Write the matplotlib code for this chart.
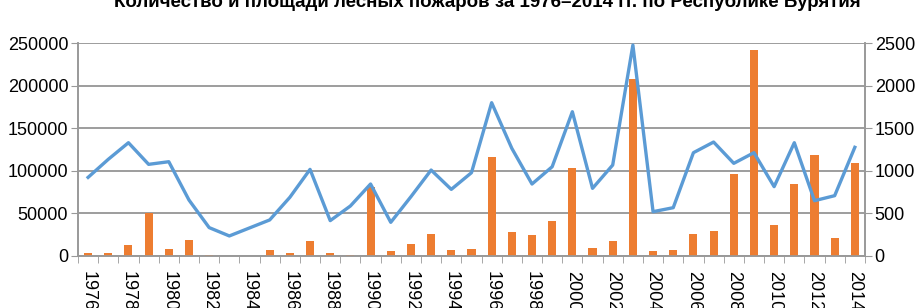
import matplotlib
matplotlib.use("Agg")
import matplotlib.pyplot as plt
import numpy as np

plt.rcParams['font.family'] = ['Liberation Sans', 'DejaVu Sans']

# data
years = list(range(1976, 2015))
area = [4000, 3500, 13300, 51000, 7800, 18800, 1000, 300, 500, 6600, 3000, 17600, 3500,
        1000, 81000, 5400, 14000, 25800, 7000, 8200, 116000, 28200, 24600, 41100, 103300,
        9800, 17600, 208000, 5400, 7000, 25800, 29000, 96200, 242500, 36400, 84500, 118900,
        21500, 109500]
count = [923, 1135, 1330, 1076, 1107, 657, 333, 235, 329, 423, 689, 1017, 415,
         587, 845, 395, 696, 1009, 782, 978, 1800, 1264, 845, 1048, 1694,
         794, 1068, 2477, 520, 567, 1213, 1338, 1088, 1213, 814, 1330, 649,
         708, 1276]
title = "Количество и площади лесных пожаров за 1976–2014 гг. по Республике Бурятия"

bar_color = "#ED7D31"
line_color = "#5B9BD5"
axis_gray = "#999999"

fig = plt.figure(figsize=(9.22, 3.08), dpi=100)
ax = fig.add_axes([0.0846, 0.169, 0.8535, 0.691])
x = np.arange(len(years))

ax.bar(x, area, width=0.4, color=bar_color, zorder=3)
ax.set_ylim(0, 250000)
ax.set_yticks(range(0, 250001, 50000))
ax.set_xlim(-0.5, len(years) - 0.5)
ax.yaxis.grid(True, color="#8c8c8c", linewidth=1.2, zorder=0)
ax.set_axisbelow(True)

ax.set_xticks(x[::2])
ax.set_xticklabels([str(y) for y in years[::2]], rotation=270, fontsize=13)
ax.set_xticks(np.arange(-0.5, len(years)), minor=True)
ax.tick_params(axis='x', which='major', length=0, pad=11)
ax.tick_params(axis='x', which='minor', length=5, color=axis_gray)
ax.tick_params(axis='y', labelsize=13, length=5, color=axis_gray, pad=2)

ax2 = ax.twinx()
ax2.plot(x, count, color=line_color, linewidth=2.4, zorder=4)
ax2.set_ylim(0, 2500)
ax2.set_yticks(range(0, 2501, 500))
ax2.tick_params(axis='y', labelsize=13, length=5, color=axis_gray, pad=2)

for a in (ax, ax2):
    a.spines['top'].set_visible(False)
    for s in ('left', 'right', 'bottom'):
        a.spines[s].set_color(axis_gray)
        a.spines[s].set_linewidth(1.2)

fig.text(0.528, 0.977, title, ha='center', va='baseline', fontsize=13.5, fontweight='bold')

fig.savefig("out.png", dpi=100)
